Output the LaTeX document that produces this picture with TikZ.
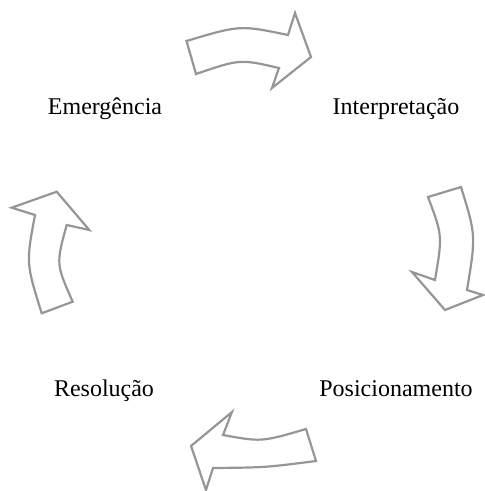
\documentclass[tikz,border=0pt]{standalone}
\usepackage{fontspec}
\setmainfont{Liberation Serif}
\begin{document}
\begin{tikzpicture}[x=1pt,y=-1pt,
  cyclearrow/.style={draw={rgb,255:red,150;green,150;blue,150},fill=white,line width=2.2pt,line join=miter},
  label/.style={anchor=base,font=\fontsize{24}{28}\selectfont,inner sep=0pt}]
\useasboundingbox (0,0) rectangle (485,491);
% texts
\node[label] (eme) at (105,114) {Emergência};
\node[label] (int) at (396,114) {Interpretação};
\node[label] (res) at (104,396) {Resolução};
\node[label] (pos) at (396,396) {Posicionamento};
% top arrow
\draw[cyclearrow] (186.5,41) .. controls (240,25) .. (288,35) -- (295,13) -- (311,57) -- (272,88) -- (279,68)
  .. controls (240,59) .. (196,74) -- cycle;
% right arrow
\draw[cyclearrow] (428,197) -- (461,187) .. controls (476,235.5) .. (467,290) -- (483,295) -- (445,310) -- (412,272) -- (435,280)
  .. controls (442.5,235.5) .. cycle;
% bottom arrow
\draw[cyclearrow] (306,429) -- (316,461) .. controls (265.5,467.5) .. (213,468) -- (206,490) -- (191,446) -- (232,412) -- (223,435)
  .. controls (261.5,442) .. cycle;
% left arrow
\draw[cyclearrow] (41.7,313.3) -- (72.7,301.7) .. controls (56,264) .. (66.7,225) -- (89.3,230) -- (56.7,191.7) -- (11.7,207.7) -- (35,215)
  .. controls (26,263) .. cycle;
\end{tikzpicture}
\end{document}
